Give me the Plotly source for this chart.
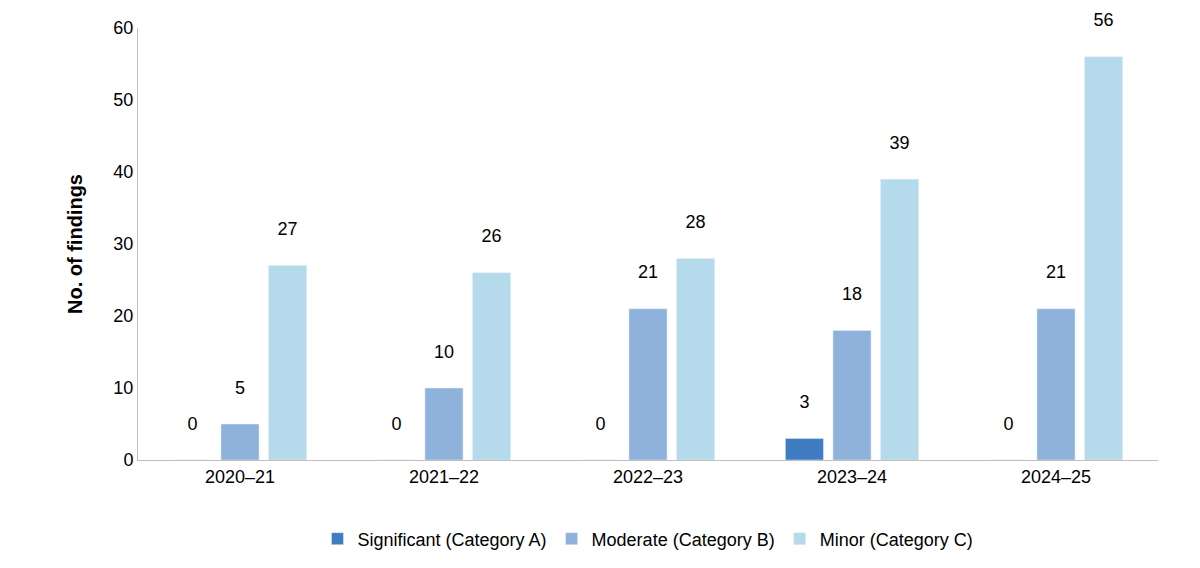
import plotly.graph_objects as go

years = ['2020–21', '2021–22', '2022–23', '2023–24', '2024–25']
significant = [0, 0, 0, 3, 0]
moderate = [5, 10, 21, 18, 21]
minor = [27, 26, 28, 39, 56]

series = [
    ('Significant (Category A)', significant, '#3F7CC2'),
    ('Moderate (Category B)', moderate, '#8FB2DC'),
    ('Minor (Category C)', minor, '#B4DAEC'),
]

fig = go.Figure()
for name, values, color in series:
    fig.add_trace(go.Bar(
        x=years, y=values, name=name, marker_color=color,
        text=[f'{v}<br> ' for v in values], textposition='outside', cliponaxis=False,
        textfont=dict(size=18, color='#000000'),
    ))

fig.update_layout(
    width=1200, height=568,
    plot_bgcolor='white', paper_bgcolor='white',
    font=dict(family='Arial, Liberation Sans, sans-serif', size=18, color='#000000'),
    barmode='group', bargap=0.3, bargroupgap=0.2,
    margin=dict(l=130, r=50, t=20, b=116),
    xaxis=dict(showline=True, linecolor='#BFBFBF', linewidth=1,
               ticks='', tickfont=dict(size=18), automargin=False),
    yaxis=dict(range=[0, 60], dtick=10, showgrid=False, showline=True,
               linecolor='#BFBFBF', tickfont=dict(size=18), automargin=False,
               title=dict(text='<b>No. of findings</b>', font=dict(size=20), standoff=25)),
    legend=dict(orientation='h', x=0.5, xanchor='center', y=-0.14, yanchor='top',
                font=dict(size=18)),
)

fig.write_html('out.html')
